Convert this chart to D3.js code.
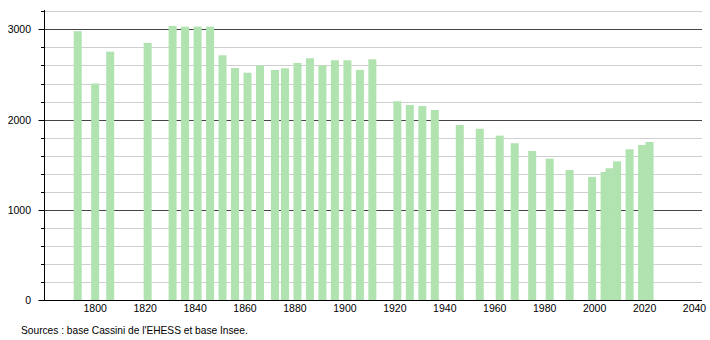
<!DOCTYPE html>
<html><head><meta charset="utf-8">
<script src="https://cdn.jsdelivr.net/npm/d3@7"></script>
<style>
body{margin:0;background:#fff;}
text{font-family:"Liberation Sans",Arial,sans-serif;}
</style></head>
<body>
<svg id="c" width="710" height="340"></svg>
<script>
const years = [1793,1800,1806,1821,1831,1836,1841,1846,1851,1856,1861,1866,1872,1876,1881,1886,1891,1896,1901,1906,1911,1921,1926,1931,1936,1946,1954,1962,1968,1975,1982,1990,1999,2004,2006,2009,2014,2019,2022];
const population = [2980,2400,2753,2850,3038,3030,3030,3030,2713,2572,2520,2602,2550,2569,2628,2680,2602,2658,2658,2550,2669,2204,2163,2152,2107,1941,1900,1823,1739,1653,1568,1443,1366,1421,1462,1539,1672,1720,1753];
const xTicks = [1800,1820,1840,1860,1880,1900,1920,1940,1960,1980,2000,2020,2040];
const yMajor = [0,1000,2000,3000];
const yMinor = [200,400,600,800,1200,1400,1600,1800,2200,2400,2600,2800,3200];
const sourceText = "Sources : base Cassini de l'EHESS et base Insee.";

const svg = d3.select("#c");
const x = d3.scaleLinear().domain([1779.5, 2043]).range([44, 702]);
const y = d3.scaleLinear().domain([0, 3200]).range([300.3, 11.3]);

// minor gridlines
svg.append("g").selectAll("line").data(yMinor).join("line")
  .attr("x1", 44).attr("x2", 702)
  .attr("y1", d => Math.round(y(d)) + 0.5).attr("y2", d => Math.round(y(d)) + 0.5)
  .attr("stroke", "#cfcfcf").attr("stroke-width", 1);
// major gridlines
svg.append("g").selectAll("line").data(yMajor.filter(d => d > 0)).join("line")
  .attr("x1", 44).attr("x2", 702)
  .attr("y1", d => Math.round(y(d)) + 0.5).attr("y2", d => Math.round(y(d)) + 0.5)
  .attr("stroke", "#444").attr("stroke-width", 1);

// bars
const bw = 8;
svg.append("g").selectAll("rect").data(years.map((yr, i) => ({yr, v: population[i]}))).join("rect")
  .attr("x", d => x(d.yr) - bw / 2)
  .attr("width", bw)
  .attr("y", d => y(d.v))
  .attr("height", d => y(0) - y(d.v))
  .attr("fill", "#b1e3b0");

// y axis
const yAxisG = svg.append("g");
yAxisG.append("line").attr("x1", 44.5).attr("x2", 44.5).attr("y1", 10).attr("y2", 300.5).attr("stroke", "#000");
yAxisG.selectAll(".mn").data(yMinor).join("line").attr("class", "mn")
  .attr("x1", 41).attr("x2", 44.5)
  .attr("y1", d => Math.round(y(d)) + 0.5).attr("y2", d => Math.round(y(d)) + 0.5)
  .attr("stroke", "#000");
yAxisG.selectAll(".mj").data(yMajor).join("line").attr("class", "mj")
  .attr("x1", 38.5).attr("x2", 44.5)
  .attr("y1", d => Math.round(y(d)) + 0.5).attr("y2", d => Math.round(y(d)) + 0.5)
  .attr("stroke", "#000");
yAxisG.selectAll("text").data(yMajor).join("text")
  .attr("x", 31).attr("y", d => y(d) + 4)
  .attr("text-anchor", "end").attr("font-size", 10.5).attr("fill", "#000")
  .text(d => d);

// x axis
svg.append("line").attr("x1", 39).attr("x2", 702).attr("y1", 300.5).attr("y2", 300.5).attr("stroke", "#000");
svg.append("g").selectAll("text").data(xTicks).join("text")
  .attr("x", d => x(d)).attr("y", 312)
  .attr("text-anchor", "middle").attr("font-size", 10.5).attr("fill", "#000")
  .text(d => d);

svg.append("text").attr("x", 21).attr("y", 334).attr("font-size", 10.2).attr("fill", "#000").text(sourceText);
</script>
</body></html>
